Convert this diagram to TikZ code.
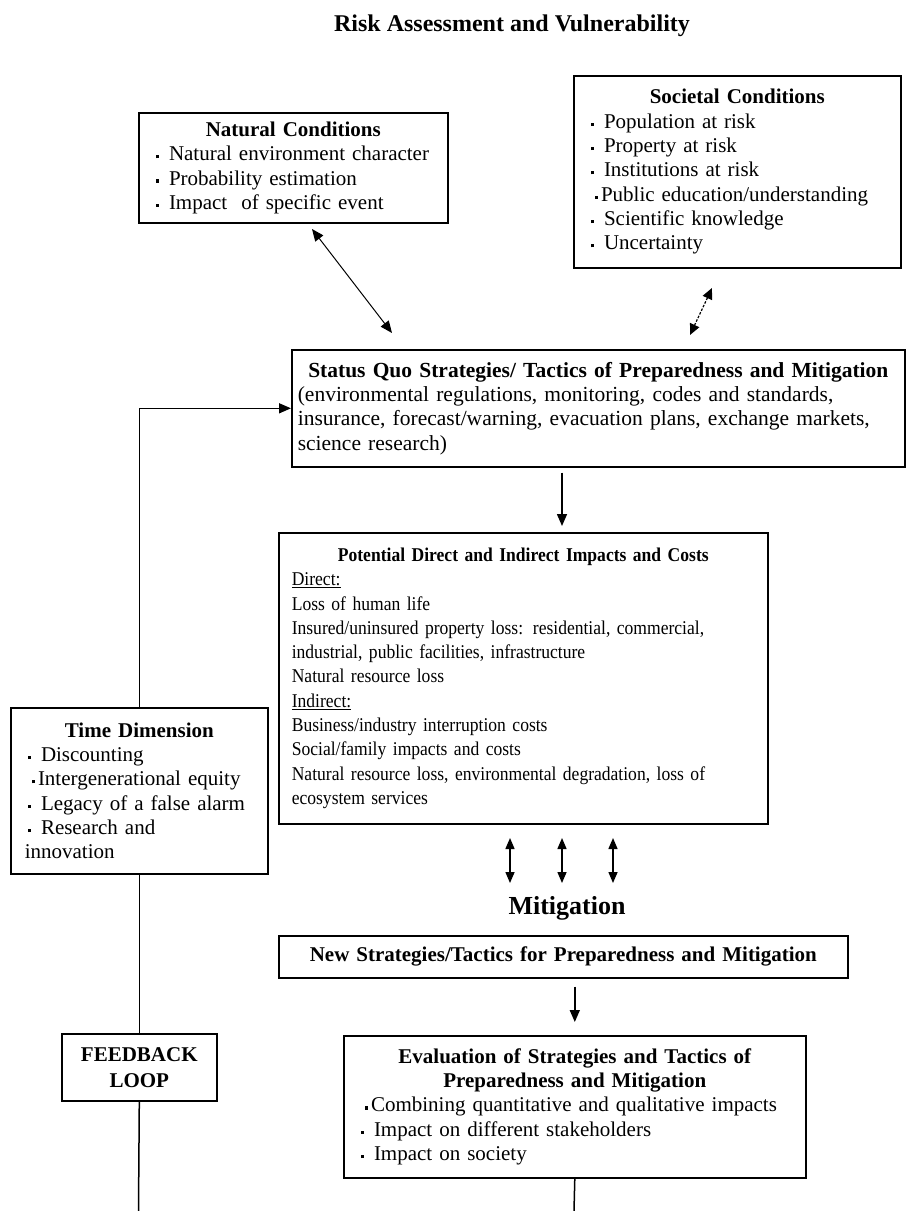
\documentclass[tikz,border=0pt]{standalone}
\usepackage{fontspec}
\setmainfont{Liberation Serif}
\newfontfamily\narrowserif[FakeStretch=0.9]{Liberation Serif}
\usetikzlibrary{arrows.meta}

\hyphenpenalty=10000
\exhyphenpenalty=10000
\newcommand{\bul}{\hspace*{3pt}\raisebox{0.25ex}{\rule{3.2pt}{3.2pt}}\hspace{10pt}}
\newcommand{\bult}{\hspace*{7pt}\raisebox{0.25ex}{\rule{3.2pt}{3.2pt}}\hspace{3pt}}
\newcommand{\boxhead}[1]{{\centering\bfseries #1\par}}

\begin{document}
\begin{tikzpicture}[x=1pt,y=-1pt,
  every node/.style={font=\fontsize{21}{24.3}\selectfont},
  infobox/.style={draw,line width=1.6pt,anchor=north west,inner xsep=14pt,inner ysep=0pt,align=left},
  flow/.style={line width=1.5pt,-{Triangle[length=12pt,width=10pt]}},
  twoway/.style={line width=1.5pt,{Triangle[length=11pt,width=9pt]}-{Triangle[length=11pt,width=9pt]}},
  loopline/.style={line width=1.5pt}]
  \useasboundingbox (0,0) rectangle (907,1211);

  \node[font=\fontsize{24}{28}\selectfont\bfseries] (title) at (512,26) {Risk Assessment and Vulnerability};

  % conditions
  \node[infobox,text width=281pt,minimum height=110pt] (natural) at (138,112) {%
    \boxhead{Natural Conditions}
    \bul Natural environment character\\
    \bul Probability estimation\\
    \bul Impact\ \ of specific event};
  \node[infobox,text width=299pt,minimum height=192pt] (societal) at (573,75) {%
    \boxhead{Societal Conditions}
    \bul Population at risk\\
    \bul Property at risk\\
    \bul Institutions at risk\\
    \bult Public education/understanding\\
    \bul Scientific knowledge\\
    \bul Uncertainty};

  % status quo
  \node[infobox,inner xsep=6pt,text width=601pt,minimum height=117pt,
        font=\fontsize{21.5}{24.3}\selectfont] (status) at (291,349) {%
    \boxhead{Status Quo Strategies/ Tactics of Preparedness and Mitigation}
    (environmental regulations, monitoring, codes and standards,\\
    insurance, forecast/warning, evacuation plans, exchange markets,\\
    science research)};

  \node[infobox,inner xsep=13pt,text width=463pt,minimum height=291pt,
        font=\narrowserif\fontsize{19.5}{24.3}\selectfont] (potential) at (278,532) {%
    \boxhead{Potential Direct and Indirect Impacts and Costs}
    \underline{Direct:}\\
    Loss of human life\\
    Insured/uninsured property loss: residential, commercial,\\
    industrial, public facilities, infrastructure\\
    Natural resource loss\\
    \underline{Indirect:}\\
    Business/industry interruption costs\\
    Social/family impacts and costs\\
    Natural resource loss, environmental degradation, loss of\\
    ecosystem services};

  \node[infobox,text width=229pt,minimum height=166pt] (time) at (10,707) {%
    \boxhead{Time Dimension}
    \bul Discounting\\
    \bult Intergenerational equity\\
    \bul Legacy of a false alarm\\
    \bul Research and\\
    innovation};

  \node[font=\fontsize{26}{30}\selectfont\bfseries] (mitig) at (567,908) {Mitigation};

  \node[infobox,align=center,text width=541pt,minimum height=42pt] (newtactics) at (278,935)
    {\bfseries New Strategies/Tactics for Preparedness and Mitigation};

  \node[infobox,text width=434pt,minimum height=142pt] (evaluation) at (343,1035) {%
    \boxhead{Evaluation of Strategies and Tactics of\\ Preparedness and Mitigation}
    \bult Combining quantitative and qualitative impacts\\
    \bul Impact on different stakeholders\\
    \bul Impact on society};

  \node[infobox,align=center,text width=127pt,minimum height=67pt,font=\fontsize{21}{26}\selectfont\bfseries] (loop) at (61,1033)
    {FEEDBACK\\LOOP};

  % connectors
  \coordinate (nat-a) at (312,229);
  \coordinate (nat-b) at (392,333);
  \draw[line width=1pt,{Triangle[length=12pt,width=10pt]}-{Triangle[length=12pt,width=10pt]}] (nat-a) -- (nat-b);
  \coordinate (soc-a) at (712,288);
  \coordinate (soc-b) at (690,335);
  \draw[line width=1.2pt,dash pattern=on 2.5pt off 1.5pt,{Triangle[length=11pt,width=10pt]}-{Triangle[length=11pt,width=10pt]}] (soc-a) -- (soc-b);

  \coordinate (midx) at (562,0);
  \draw[flow,shorten <=5pt,shorten >=6pt] (status.south -| midx) -- (potential.north -| midx);

  \foreach \x [count=\i] in {510,562,613} {
    \coordinate (up\i) at (\x,838);
    \coordinate (dn\i) at (\x,883);
    \draw[twoway] (up\i) -- (dn\i);
  }

  \draw[flow,shorten <=8pt,shorten >=13pt] (newtactics.south -| evaluation.north) -- (evaluation.north);

  % feedback loop
  \coordinate (cut-r) at (574,1211);
  \coordinate (cut-l) at (138.5,1211);
  \draw[loopline] (evaluation.south) -- (cut-r);
  \draw[loopline] (cut-l) -- (loop.south);
  \draw[loopline] (loop.north) -- (time.south);
  \draw[flow] (time.north) |- (status.west);
\end{tikzpicture}
\end{document}
